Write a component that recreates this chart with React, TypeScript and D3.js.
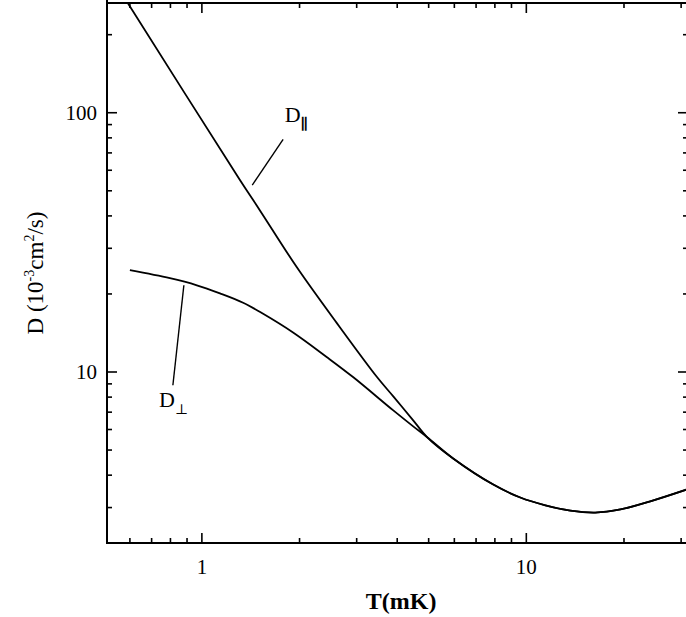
import { useEffect, useRef } from "react";
import * as d3 from "d3";

// D_parallel (upper branch, ~1/T^2)
const tPar = [0.591, 1.31, 1.51, 1.96, 2.61, 3.47, 3.89, 4.48, 4.95];
const dPar = [265, 55, 42, 25.4, 15.4, 9.54, 8.05, 6.51, 5.6];

// D_perp (lower branch, saturating at low T)
const tPerp = [0.6, 0.797, 0.965, 1.137, 1.34, 1.54, 1.91, 2.43, 2.93, 3.89, 4.48, 4.95];
const dPerp = [24.7, 23.0, 21.6, 20.1, 18.5, 16.8, 14.2, 11.4, 9.54, 7.11, 6.17, 5.6];

// common part after the two branches merge
const tCommon = [5.95, 7.91, 9.58, 11.45, 13.67, 16.3, 19.5, 24.1, 31.2];
const dCommon = [4.64, 3.68, 3.28, 3.06, 2.92, 2.87, 2.95, 3.17, 3.52];

const xTickLabels = ["1", "10"];
const yTickLabels = ["10", "100"];

const serif = "'Liberation Serif', 'DejaVu Serif', serif";

const App: React.FC = () => {
  const ref = useRef<SVGSVGElement | null>(null);

  useEffect(() => {
    if (!ref.current) return;
    const W = 686;
    const H = 617;
    const left = 107, right = 688, top = 3, bottom = 543;

    const svg = d3.select(ref.current).html("").attr("width", W).attr("height", H);

    const x = d3.scaleLog().domain([0.51, 31.5]).range([left, right]);
    const y = d3.scaleLog().domain([2.19, 265]).range([bottom, top]);

    svg.append("defs").append("clipPath").attr("id", "plot")
      .append("rect").attr("x", left).attr("y", top).attr("width", right - left).attr("height", bottom - top);

    // frame
    const frame = svg.append("g").attr("stroke", "#000").attr("stroke-width", 2).attr("fill", "none");
    frame.append("line").attr("x1", left).attr("x2", left).attr("y1", top - 3).attr("y2", bottom + 1);
    frame.append("line").attr("x1", left).attr("x2", right).attr("y1", bottom).attr("y2", bottom);
    frame.append("line").attr("x1", left).attr("x2", right).attr("y1", top).attr("y2", top);
    frame.append("line").attr("x1", right).attr("x2", right).attr("y1", top).attr("y2", bottom);

    // ticks (inward)
    const xTicks = x.ticks().filter((t) => t >= 0.51 && t <= 31.5);
    const yTicks = y.ticks().filter((t) => t >= 2.19 && t <= 265);
    const isMajor = (v: number) => Math.abs(Math.log10(v) - Math.round(Math.log10(v))) < 1e-6;
    const tk = svg.append("g").attr("stroke", "#000").attr("stroke-width", 1.6);
    xTicks.forEach((t) => {
      const len = isMajor(t) ? 10 : 5;
      tk.append("line").attr("x1", x(t)).attr("x2", x(t)).attr("y1", bottom).attr("y2", bottom - len);
      tk.append("line").attr("x1", x(t)).attr("x2", x(t)).attr("y1", top).attr("y2", top + len);
    });
    yTicks.forEach((t) => {
      const len = isMajor(t) ? 10 : 5;
      tk.append("line").attr("x1", left).attr("x2", left + len).attr("y1", y(t)).attr("y2", y(t));
      tk.append("line").attr("x1", right).attr("x2", right - len).attr("y1", y(t)).attr("y2", y(t));
    });

    // tick labels
    [1, 10].forEach((t, i) => {
      svg.append("text").attr("x", x(t)).attr("y", bottom + 31)
        .attr("text-anchor", "middle").style("font-family", serif).style("font-size", "21px")
        .text(xTickLabels[i]);
    });
    [10, 100].forEach((t, i) => {
      svg.append("text").attr("x", left - 10).attr("y", y(t) + 7)
        .attr("text-anchor", "end").style("font-family", serif).style("font-size", "21px")
        .text(yTickLabels[i]);
    });

    // axis titles
    svg.append("text").attr("x", (x(1) + x(10)) / 2 + 37).attr("y", 609)
      .attr("text-anchor", "middle").style("font-family", serif).style("font-size", "24px")
      .style("font-weight", "bold").text("T(mK)");

    const yl = svg.append("text").attr("transform", `translate(43,${(top + bottom) / 2}) rotate(-90)`)
      .attr("text-anchor", "middle").style("font-family", serif).style("font-size", "23px");
    yl.append("tspan").text("D (10");
    yl.append("tspan").attr("dy", -9).style("font-size", "14px").text("-3");
    yl.append("tspan").attr("dy", 9).text("cm");
    yl.append("tspan").attr("dy", -9).style("font-size", "14px").text("2");
    yl.append("tspan").attr("dy", 9).text("/s)");

    // curves
    const line = d3.line<[number, number]>()
      .x((d) => x(d[0]))
      .y((d) => y(d[1]))
      .curve(d3.curveCatmullRom.alpha(0.5));

    const common = tCommon.map((t, i) => [t, dCommon[i]] as [number, number]);
    const par = tPar.map((t, i) => [t, dPar[i]] as [number, number]).concat(common);
    const perp = tPerp.map((t, i) => [t, dPerp[i]] as [number, number]).concat(common);

    const g = svg.append("g").attr("clip-path", "url(#plot)");
    [par, perp].forEach((pts) => {
      g.append("path").datum(pts).attr("fill", "none").attr("stroke", "#000")
        .attr("stroke-width", 1.8).attr("d", line);
    });

    // annotations
    const ann = svg.append("g").attr("stroke", "#000").attr("stroke-width", 1.4);
    ann.append("line").attr("x1", x(1.78)).attr("y1", y(79)).attr("x2", x(1.43)).attr("y2", y(52.6));
    ann.append("line").attr("x1", x(0.88)).attr("y1", y(21.6)).attr("x2", x(0.814)).attr("y2", y(8.89));

    const lp = svg.append("text").attr("x", x(1.8)).attr("y", y(92))
      .style("font-family", serif).style("font-size", "22px");
    lp.append("tspan").text("D");
    lp.append("tspan").attr("dy", 7).style("font-size", "15px").style("font-weight", "bold").text("\u2225");

    const lq = svg.append("text").attr("x", x(0.737)).attr("y", y(7.3))
      .style("font-family", serif).style("font-size", "22px");
    lq.append("tspan").text("D");
    lq.append("tspan").attr("dy", 7).style("font-size", "14px").text("\u22a5");
  }, []);

  return <svg ref={ref} style={{ position: "absolute", left: 0, top: 0, background: "#fff" }} />;
};

export default App;
